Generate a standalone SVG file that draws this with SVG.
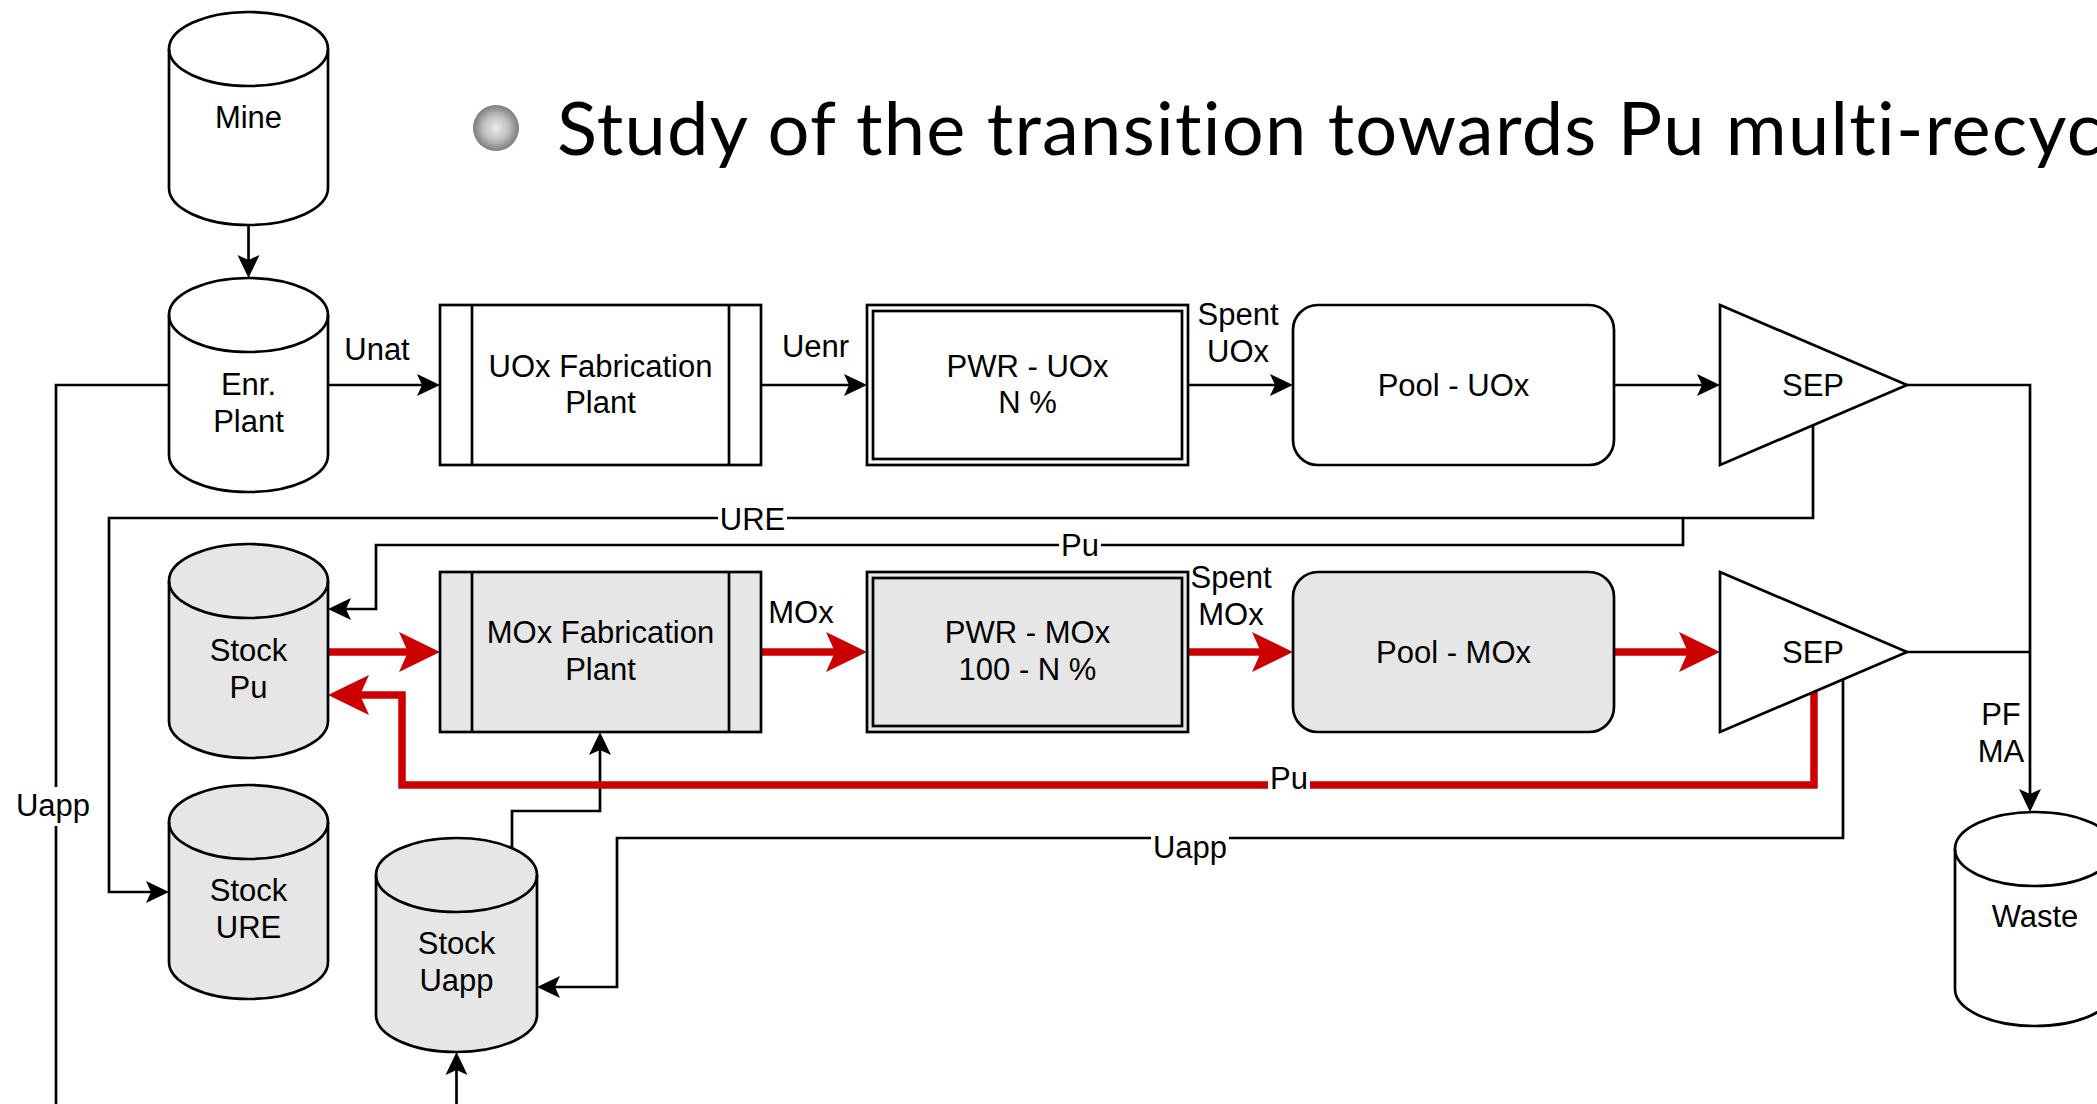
<svg xmlns="http://www.w3.org/2000/svg" width="2097" height="1104" viewBox="0 0 2097 1104">
  <defs>
    <style>
      .node { stroke: #000; stroke-width: 2.7; fill: #fff; }
      .node.grey { fill: #e6e6e6; }
      .cap { stroke: #000; stroke-width: 2.7; fill: none; }
      .lbl { font-family: "Liberation Sans", Arial, Helvetica, sans-serif; font-size: 31px; fill: #000; text-anchor: middle; }
      .edge { stroke: #000; stroke-width: 2.7; fill: none; stroke-linejoin: miter; }
      .edge.red { stroke: #cc0000; stroke-width: 7.5; }
      .bg { fill: #fff; stroke: none; }
      .title { font-family: Lato, "Open Sans", sans-serif; font-size: 74px; fill: #000; font-variant-ligatures: none; }
    </style>
    <marker id="arrow" viewBox="0 -12 24 24" markerWidth="24" markerHeight="24" refX="17" refY="0" orient="auto" markerUnits="userSpaceOnUse">
      <path d="M0,-11 L23,0 L0,11 L5,0 Z" fill="#000"/>
    </marker>
    <marker id="arrow-red" viewBox="0 -21 42 42" markerWidth="42" markerHeight="42" refX="26" refY="0" orient="auto" markerUnits="userSpaceOnUse">
      <path d="M0,-20 L41,0 L0,20 L9,0 Z" fill="#cc0000"/>
    </marker>
    <radialGradient id="bullet" cx="0.5" cy="0.5" r="0.5">
      <stop offset="0" stop-color="#eeeeee"/>
      <stop offset="0.55" stop-color="#bdbdbd"/>
      <stop offset="1" stop-color="#7c7c7c"/>
    </radialGradient>
  </defs>

  <rect width="2097" height="1104" fill="#fff"/>

  <!-- slide heading -->
  <g id="heading">
    <circle cx="496" cy="128" r="23" fill="url(#bullet)"/>
    <text class="title" x="557" y="155" textLength="1545" lengthAdjust="spacing">Study of the transition towards Pu multi-recyc</text>
  </g>

  <!-- flows between facilities -->
  <g id="connectors">
    <path class="edge" d="M248.5,225 V272" marker-end="url(#arrow)"/>
    <path class="edge" d="M328,385 H434" marker-end="url(#arrow)"/>
    <path class="edge" d="M761,385 H861" marker-end="url(#arrow)"/>
    <path class="edge" d="M1188,385 H1287" marker-end="url(#arrow)"/>
    <path class="edge" d="M1614,385 H1714" marker-end="url(#arrow)"/>
    <path class="edge" d="M1900,385 H2030 V806" marker-end="url(#arrow)"/>
    <path class="edge" d="M1900,652 H2030"/>
    <path class="edge" d="M1813,420 V518 H109 V892 H163" marker-end="url(#arrow)"/>
    <path class="edge" d="M1683,518 V545 H376 V609 H334" marker-end="url(#arrow)"/>
    <path class="edge" d="M1843,670 V838 H617 V987 H543" marker-end="url(#arrow)"/>
    <path class="edge" d="M512,860 V811 H600 V738" marker-end="url(#arrow)"/>
    <path class="edge" d="M456.5,1104 V1058" marker-end="url(#arrow)"/>
    <path class="edge" d="M200,385 H56 V1104"/>

    <path class="edge red" d="M328,652 H425" marker-end="url(#arrow-red)"/>
    <path class="edge red" d="M761,652 H852" marker-end="url(#arrow-red)"/>
    <path class="edge red" d="M1188,652 H1278" marker-end="url(#arrow-red)"/>
    <path class="edge red" d="M1614,652 H1705" marker-end="url(#arrow-red)"/>
    <path class="edge red" d="M1814,680 V785 H402 V695 H343" marker-end="url(#arrow-red)"/>

    <text class="lbl" x="377" y="360">Unat</text>
    <text class="lbl" x="815.5" y="357">Uenr</text>
    <text class="lbl" x="1238" y="325">Spent</text>
    <text class="lbl" x="1238" y="362">UOx</text>
    <text class="lbl" x="801" y="623">MOx</text>
    <text class="lbl" x="1231" y="588">Spent</text>
    <text class="lbl" x="1231" y="625">MOx</text>
    <text class="lbl" x="2001" y="725">PF</text>
    <text class="lbl" x="2001" y="762">MA</text>

    <rect class="bg" x="718" y="506" width="69" height="28"/>
    <text class="lbl" x="752.5" y="530">URE</text>
    <rect class="bg" x="1059" y="532" width="42" height="28"/>
    <text class="lbl" x="1080" y="556">Pu</text>
    <rect class="bg" x="1268" y="764" width="42" height="29"/>
    <text class="lbl" x="1289" y="789">Pu</text>
    <rect class="bg" x="1151" y="832" width="78" height="34"/>
    <text class="lbl" x="1190" y="858">Uapp</text>
    <rect class="bg" x="16" y="787" width="74" height="39"/>
    <text class="lbl" x="53" y="816">Uapp</text>
  </g>

  <!-- upper line: uranium oxide cycle -->
  <g id="mine">
    <path class="node" d="M169,49 A79.5,37 0 0 1 328,49 V188 A79.5,37 0 0 1 169,188 Z"/>
    <path class="cap" d="M169,49 A79.5,37 0 0 0 328,49"/>
    <text class="lbl" x="248.5" y="128">Mine</text>
  </g>
  <g id="enr-plant">
    <path class="node" d="M169,315 A79.5,37 0 0 1 328,315 V455 A79.5,37 0 0 1 169,455 Z"/>
    <path class="cap" d="M169,315 A79.5,37 0 0 0 328,315"/>
    <text class="lbl" x="248.5" y="395">Enr.</text>
    <text class="lbl" x="248.5" y="432">Plant</text>
  </g>
  <g id="uox-fab">
    <rect class="node" x="440" y="305" width="321" height="160"/>
    <path class="cap" d="M472,305 V465 M729,305 V465"/>
    <text class="lbl" x="600.5" y="377">UOx Fabrication</text>
    <text class="lbl" x="600.5" y="413">Plant</text>
  </g>
  <g id="pwr-uox">
    <rect class="node" x="867" y="305" width="321" height="160"/>
    <rect class="cap" x="873" y="311" width="309" height="148"/>
    <text class="lbl" x="1027.5" y="377">PWR - UOx</text>
    <text class="lbl" x="1027.5" y="413">N %</text>
  </g>
  <g id="pool-uox">
    <rect class="node" x="1293" y="305" width="321" height="160" rx="25" ry="25"/>
    <text class="lbl" x="1453.5" y="396">Pool - UOx</text>
  </g>
  <g id="sep-uox">
    <path class="node" d="M1720,305 L1907,385 L1720,465 Z"/>
    <text class="lbl" x="1813" y="396">SEP</text>
  </g>

  <!-- lower line: mixed oxide cycle -->
  <g id="stock-pu">
    <path class="node grey" d="M169,581 A79.5,37 0 0 1 328,581 V721 A79.5,37 0 0 1 169,721 Z"/>
    <path class="cap" d="M169,581 A79.5,37 0 0 0 328,581"/>
    <text class="lbl" x="248.5" y="661">Stock</text>
    <text class="lbl" x="248.5" y="698">Pu</text>
  </g>
  <g id="mox-fab">
    <rect class="node grey" x="440" y="572" width="321" height="160"/>
    <path class="cap" d="M472,572 V732 M729,572 V732"/>
    <text class="lbl" x="600.5" y="643">MOx Fabrication</text>
    <text class="lbl" x="600.5" y="680">Plant</text>
  </g>
  <g id="pwr-mox">
    <rect class="node grey" x="867" y="572" width="321" height="160"/>
    <rect class="cap" x="873" y="578" width="309" height="148"/>
    <text class="lbl" x="1027.5" y="643">PWR - MOx</text>
    <text class="lbl" x="1027.5" y="680">100 - N %</text>
  </g>
  <g id="pool-mox">
    <rect class="node grey" x="1293" y="572" width="321" height="160" rx="25" ry="25"/>
    <text class="lbl" x="1453.5" y="663">Pool - MOx</text>
  </g>
  <g id="sep-mox">
    <path class="node" d="M1720,572 L1907,652 L1720,732 Z"/>
    <text class="lbl" x="1813" y="663">SEP</text>
  </g>

  <!-- stocks and waste -->
  <g id="stock-ure">
    <path class="node grey" d="M169,822 A79.5,37 0 0 1 328,822 V962 A79.5,37 0 0 1 169,962 Z"/>
    <path class="cap" d="M169,822 A79.5,37 0 0 0 328,822"/>
    <text class="lbl" x="248.5" y="901">Stock</text>
    <text class="lbl" x="248.5" y="938">URE</text>
  </g>
  <g id="stock-uapp">
    <path class="node grey" d="M376,875 A80.5,37 0 0 1 537,875 V1015 A80.5,37 0 0 1 376,1015 Z"/>
    <path class="cap" d="M376,875 A80.5,37 0 0 0 537,875"/>
    <text class="lbl" x="456.5" y="954">Stock</text>
    <text class="lbl" x="456.5" y="991">Uapp</text>
  </g>
  <g id="waste">
    <path class="node" d="M1955,849 A80,37 0 0 1 2115,849 V989 A80,37 0 0 1 1955,989 Z"/>
    <path class="cap" d="M1955,849 A80,37 0 0 0 2115,849"/>
    <text class="lbl" x="2035" y="927">Waste</text>
  </g>
</svg>
